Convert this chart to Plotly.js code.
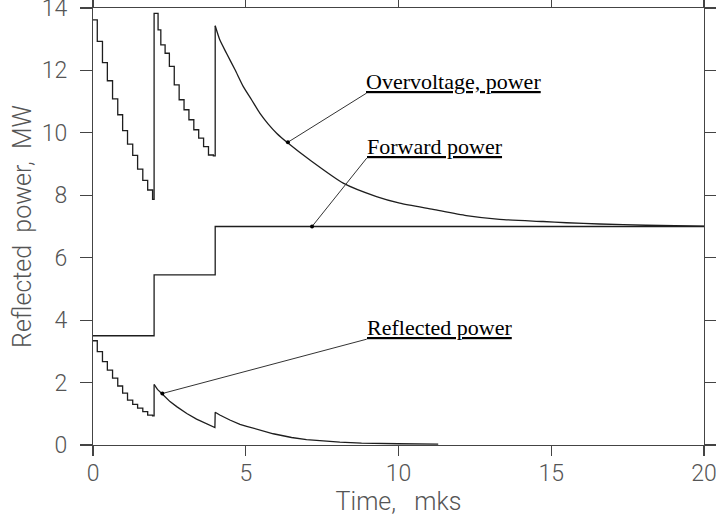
<!DOCTYPE html>
<html><head><meta charset="utf-8">
<script src="https://cdn.plot.ly/plotly-3.0.1.min.js"></script>
<style>html,body{margin:0;padding:0;background:#fff}</style>
</head><body><div id="chart" style="width:716px;height:516px"></div>
<script>
// Overvoltage power, stepped part (0-4 mks), drawn as steps
const ovStepX = [0,0.14,0.31,0.47,0.64,0.81,0.97,1.13,1.30,1.46,1.63,1.79,1.95,2.0,2.13,2.22,2.36,2.50,2.66,2.82,2.98,3.14,3.30,3.46,3.62,3.78,3.94,4.0];
const ovStepY = [13.62,12.93,12.25,11.67,11.09,10.58,10.07,9.64,9.28,8.84,8.48,8.17,7.87,13.83,13.30,12.82,12.55,12.13,11.54,11.06,10.74,10.42,10.10,9.83,9.56,9.29,9.26,13.43];
// Overvoltage power, smooth decay (4-20 mks)
const ovX = [4.0,4.15,4.37,4.65,4.92,5.19,5.46,5.73,6.01,6.36,7.10,8.19,9.28,10.04,11.13,12.22,13.31,14.73,15.5,16.58,18.1,20.0];
const ovY = [13.43,12.98,12.55,12.02,11.48,11.06,10.63,10.29,9.99,9.69,9.13,8.39,7.96,7.75,7.55,7.35,7.23,7.16,7.12,7.08,7.04,7.01];
// Forward power
const fwdX = [0,2.0,4.0,20.0];
const fwdY = [3.5,5.45,7.0,7.0];
// Reflected power, stepped part (0-2 mks)
const rfStepX = [0,0.14,0.31,0.47,0.64,0.81,0.97,1.13,1.30,1.46,1.63,1.79,1.95,2.0];
const rfStepY = [3.34,2.99,2.67,2.40,2.14,1.89,1.66,1.44,1.30,1.18,1.07,0.96,0.93,1.94];
// Reflected power, decay (2-11.3 mks)
const rfX = [2.0,2.11,2.30,2.52,2.74,3.07,3.39,3.72,3.99,4.0,4.15,4.48,4.81,5.03,5.57,5.9,6.5,6.99,8.08,8.79,10.0,11.3];
const rfY = [1.94,1.78,1.60,1.39,1.23,1.01,0.83,0.67,0.56,1.05,0.96,0.80,0.66,0.60,0.46,0.36,0.24,0.17,0.09,0.06,0.04,0.03];
// Callout labels
const labelText = ['Overvoltage, power','Forward power','Reflected power'];
const labelPointX = [6.38,7.17,2.27];
const labelPointY = [9.70,7.0,1.65];
const labelTextX = [8.95,8.96,8.96];
const labelTextY = [11.27,9.19,3.39];
// Axis ticks
const xTicks = [0,5,10,15,20];
const yTicks = [0,2,4,6,8,10,12,14];

const LC = '#1e1e1e';
const traces = [
  {x: ovStepX, y: ovStepY, mode:'lines', line:{color:LC,width:1.3,shape:'hv'}},
  {x: ovX, y: ovY, mode:'lines', line:{color:LC,width:1.3,shape:'spline',smoothing:0.6}},
  {x: fwdX, y: fwdY, mode:'lines', line:{color:LC,width:1.3,shape:'hv'}},
  {x: rfStepX, y: rfStepY, mode:'lines', line:{color:LC,width:1.3,shape:'hv'}},
  {x: rfX, y: rfY, mode:'lines', line:{color:LC,width:1.3}}
];
const annotations = [];
for (let i = 0; i < labelText.length; i++) {
  traces.push({x:[labelPointX[i],labelTextX[i]], y:[labelPointY[i],labelTextY[i]], mode:'lines', line:{color:'#333',width:1}});
  annotations.push({x:labelTextX[i], y:labelTextY[i], xref:'x', yref:'y', text:labelText[i], showarrow:false,
    xanchor:'left', yanchor:'bottom', xshift:-2, yshift:-3,
    font:{family:'Liberation Serif, Times New Roman, serif', size:22, color:'#000', lineposition:'under'}});
}
traces.push({x: labelPointX, y: labelPointY, mode:'markers', marker:{color:'#000',size:4}});

const tickFont = {family:'Roboto, Liberation Sans, sans-serif', size:23, color:'#555', weight:300};
const titleFont = {family:'Roboto, Liberation Sans, sans-serif', size:25, color:'#555', weight:300};
const layout = {
  width:716, height:516,
  margin:{l:93, r:12, t:8, b:71},
  paper_bgcolor:'#fff', plot_bgcolor:'#fff',
  showlegend:false,
  annotations: annotations,
  xaxis:{range:[0,20], tickvals:xTicks, ticks:'outside', ticklen:10, tickwidth:1.2, tickcolor:'#444',
    showline:true, linecolor:'#444', linewidth:1.2, mirror:'ticks', showgrid:false, zeroline:false,
    tickfont:tickFont, ticklabelstandoff:-3, ticklabeloverflow:'allow',
    title:{text:'Time,\u00a0\u00a0 mks', font:titleFont, standoff:0}},
  yaxis:{range:[0,14], tickvals:yTicks, ticks:'outside', ticklen:12, tickwidth:1.2, tickcolor:'#444',
    showline:true, linecolor:'#444', linewidth:1.2, mirror:'ticks', showgrid:false, zeroline:false,
    tickfont:tickFont, ticklabelstandoff:8, ticklabeloverflow:'allow',
    title:{text:'Reflected\u00a0 power,\u00a0 MW', font:titleFont, standoff:3}}
};
Plotly.newPlot('chart', traces, layout, {staticPlot:true, displayModeBar:false});
</script></body></html>
